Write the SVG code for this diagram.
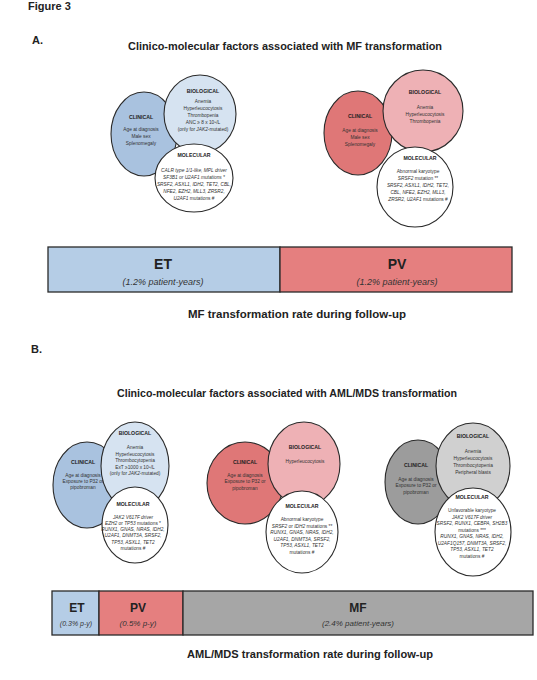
<svg xmlns="http://www.w3.org/2000/svg" width="537" height="680" viewBox="0 0 537 680">
<style>
text{font-family:"Liberation Sans","Open Sans",sans-serif;fill:#222}
.h{font-weight:bold;font-size:10.5px}
.lbl{font-weight:bold;font-size:11px}
.c{stroke:#2a2a2a;stroke-width:1.1}
.hd{font-weight:bold;font-size:5.2px;text-anchor:middle}
.t{font-size:4.8px;text-anchor:middle;fill:#333}
.i{font-style:italic}
.bar{stroke:#2a2a2a;stroke-width:1.3}
.bl{font-weight:bold;text-anchor:middle}
.bs{font-style:italic;text-anchor:middle;fill:#333}
.blue1{fill:#a9c2df}.blue2{fill:#d6e3f1}
.red1{fill:#df7777}.red2{fill:#eeb1b5}
.gray1{fill:#9c9c9c}.gray2{fill:#d0d0d0}
.white{fill:#fff}
</style>
<rect width="537" height="680" fill="#fff"/>
<text x="28" y="10" class="lbl">Figure 3</text>
<text x="32" y="44" class="lbl">A.</text>
<text x="285" y="50" class="h" text-anchor="middle" textLength="314" lengthAdjust="spacingAndGlyphs">Clinico-molecular factors associated with MF transformation</text>

<g id="venn-A-ET">
<g id="A-ET-clinical"><ellipse class="c blue1" cx="144" cy="134" rx="33" ry="42"/>
<text x="141" y="119" class="hd">CLINICAL</text>
<text x="141" y="131" class="t">Age at diagnosis</text>
<text x="141" y="138" class="t">Male sex</text>
<text x="141" y="145" class="t">Splenomegaly</text></g>
<g id="A-ET-biological"><ellipse class="c blue2" cx="200" cy="114" rx="36" ry="39"/>
<text x="203" y="93" class="hd">BIOLOGICAL</text>
<text x="203" y="103" class="t">Anemia</text>
<text x="203" y="110" class="t">Hyperleucocytosis</text>
<text x="203" y="117" class="t">Thrombopenia</text>
<text x="203" y="124" class="t">ANC ≥ 8 x 10⁹/L</text>
<text x="203" y="131" class="t">(only for <tspan class="i">JAK2</tspan>-mutated)</text></g>
<g id="A-ET-molecular"><ellipse class="c white" cx="194" cy="178" rx="39" ry="34"/>
<text x="194" y="157" class="hd">MOLECULAR</text>
<text x="194" y="172" class="t i">CALR type 1/1-like, MPL driver</text>
<text x="194" y="179" class="t i">SF3B1 or U2AF1 mutations *</text>
<text x="194" y="186" class="t i">SRSF2, ASXL1, IDH2, TET2, CBL,</text>
<text x="194" y="193" class="t i">NFE2, EZH2, MLL3, ZRSR2,</text>
<text x="194" y="200" class="t"><tspan class="i">U2AF1</tspan> mutations #</text></g>
</g>

<g id="venn-A-PV">
<g id="A-PV-clinical"><ellipse class="c red1" cx="358" cy="133" rx="34" ry="42"/>
<text x="360" y="118" class="hd">CLINICAL</text>
<text x="360" y="132" class="t">Age at diagnosis</text>
<text x="360" y="139" class="t">Male sex</text>
<text x="360" y="146" class="t">Splenomegaly</text></g>
<g id="A-PV-biological"><ellipse class="c red2" cx="423" cy="111" rx="40" ry="41"/>
<text x="425" y="94" class="hd">BIOLOGICAL</text>
<text x="425" y="109" class="t">Anemia</text>
<text x="425" y="116" class="t">Hyperleucocytosis</text>
<text x="425" y="123" class="t">Thrombopenia</text></g>
<g id="A-PV-molecular"><ellipse class="c white" cx="415" cy="187" rx="38" ry="40"/>
<text x="420" y="160" class="hd">MOLECULAR</text>
<text x="418" y="173" class="t">Abnormal karyotype</text>
<text x="418" y="180" class="t"><tspan class="i">SRSF2</tspan> mutation **</text>
<text x="418" y="187" class="t i">SRSF2, ASXL1, IDH2, TET2,</text>
<text x="418" y="194" class="t i">CBL, NFE2, EZH2, MLL3,</text>
<text x="418" y="201" class="t"><tspan class="i">ZRSR2, U2AF1</tspan> mutations #</text></g>
</g>

<g id="bar-A">
<g id="bar-A-ET"><rect class="bar" x="48" y="247" width="232" height="45" fill="#b5cde6"/>
<text x="163" y="269" class="bl" font-size="14">ET</text>
<text x="163" y="285" class="bs" font-size="9">(1.2% patient-years)</text></g>
<g id="bar-A-PV"><rect class="bar" x="280" y="247" width="232" height="45" fill="#e57f7f"/>
<text x="397" y="269" class="bl" font-size="14">PV</text>
<text x="397" y="285" class="bs" font-size="9">(1.2% patient-years)</text></g>
</g>
<text x="297" y="318" class="h" text-anchor="middle" textLength="218" lengthAdjust="spacingAndGlyphs">MF transformation rate during follow-up</text>

<text x="31" y="353" class="lbl">B.</text>
<text x="287" y="397" class="h" text-anchor="middle" textLength="340" lengthAdjust="spacingAndGlyphs">Clinico-molecular factors associated with AML/MDS transformation</text>

<g id="venn-B-ET">
<g id="B-ET-clinical"><ellipse class="c blue1" cx="87" cy="485" rx="34" ry="43"/>
<text x="83" y="464" class="hd">CLINICAL</text>
<text x="83" y="477" class="t">Age at diagnosis</text>
<text x="83" y="483" class="t">Exposure to P32 or</text>
<text x="83" y="489" class="t">pipobroman</text></g>
<g id="B-ET-biological"><ellipse class="c blue2" cx="135" cy="466" rx="34" ry="44"/>
<text x="135" y="435" class="hd">BIOLOGICAL</text>
<text x="135" y="449" class="t">Anemia</text>
<text x="135" y="455.5" class="t">Hyperleucocytosis</text>
<text x="135" y="462" class="t">Thrombocytopenia</text>
<text x="135" y="468.5" class="t">ExT ≥1000 x 10⁹/L</text>
<text x="135" y="475" class="t">(only for <tspan class="i">JAK2</tspan>-mutated)</text></g>
<g id="B-ET-molecular"><ellipse class="c white" cx="135" cy="525" rx="33" ry="38"/>
<text x="133" y="506" class="hd">MOLECULAR</text>
<text x="133" y="519" class="t i">JAK2 V617F driver</text>
<text x="133" y="525" class="t"><tspan class="i">EZH2</tspan> or <tspan class="i">TP53</tspan> mutations *</text>
<text x="133" y="531" class="t i">RUNX1, GNAS, NRAS, IDH2,</text>
<text x="133" y="537" class="t i">U2AF1, DNMT3A, SRSF2,</text>
<text x="133" y="543.5" class="t i">TP53, ASXL1, TET2</text>
<text x="133" y="550" class="t">mutations #</text></g>
</g>

<g id="venn-B-PV">
<g id="B-PV-clinical"><ellipse class="c red1" cx="245" cy="483" rx="38" ry="41"/>
<text x="245" y="464" class="hd">CLINICAL</text>
<text x="245" y="477" class="t">Age at diagnosis</text>
<text x="245" y="483" class="t">Exposure to P32 or</text>
<text x="245" y="490" class="t">pipobroman</text></g>
<g id="B-PV-biological"><ellipse class="c red2" cx="304" cy="464" rx="36" ry="42"/>
<text x="305" y="449" class="hd">BIOLOGICAL</text>
<text x="305" y="463" class="t">Hyperleucocytosis</text></g>
<g id="B-PV-molecular"><ellipse class="c white" cx="302" cy="532" rx="36" ry="41"/>
<text x="302" y="508" class="hd">MOLECULAR</text>
<text x="302" y="521" class="t">Abnormal karyotype</text>
<text x="302" y="527.5" class="t"><tspan class="i">SRSF2</tspan> or <tspan class="i">IDH2</tspan> mutations **</text>
<text x="302" y="534" class="t i">RUNX1, GNAS, NRAS, IDH2,</text>
<text x="302" y="540.5" class="t i">U2AF1, DNMT3A, SRSF2,</text>
<text x="302" y="547" class="t i">TP53, ASXL1, TET2</text>
<text x="302" y="553.5" class="t">mutations #</text></g>
</g>

<g id="venn-B-MF">
<g id="B-MF-clinical"><ellipse class="c gray1" cx="418" cy="482" rx="33" ry="42"/>
<text x="416" y="467" class="hd">CLINICAL</text>
<text x="416" y="481" class="t">Age at diagnosis</text>
<text x="416" y="487" class="t">Exposure to P32 or</text>
<text x="416" y="494" class="t">pipobroman</text></g>
<g id="B-MF-biological"><ellipse class="c gray2" cx="473" cy="466" rx="37" ry="43"/>
<text x="473" y="438" class="hd">BIOLOGICAL</text>
<text x="473" y="453" class="t">Anemia</text>
<text x="473" y="460" class="t">Hyperleucocytosis</text>
<text x="473" y="467" class="t">Thrombocytopenia</text>
<text x="473" y="474" class="t">Peripheral blasts</text></g>
<g id="B-MF-molecular"><ellipse class="c white" cx="473" cy="532" rx="38" ry="44"/>
<text x="472" y="499" class="hd">MOLECULAR</text>
<text x="472" y="512" class="t">Unfavorable karyotype</text>
<text x="472" y="518.5" class="t i">JAK2 V617F driver</text>
<text x="472" y="525" class="t i">SRSF2, RUNX1, CEBPA, SH2B3</text>
<text x="472" y="531.5" class="t">mutations ***</text>
<text x="472" y="538" class="t i">RUNX1, GNAS, NRAS, IDH2,</text>
<text x="472" y="544.5" class="t i">U2AF1Q157, DNMT3A, SRSF2,</text>
<text x="472" y="551" class="t i">TP53, ASXL1, TET2</text>
<text x="472" y="557.5" class="t">mutations #</text></g>
</g>

<g id="bar-B">
<g id="bar-B-ET"><rect class="bar" x="52" y="591" width="47" height="44" fill="#b5cde6"/>
<text x="77" y="612" class="bl" font-size="12">ET</text>
<text x="76" y="626" class="bs" font-size="7">(0.3% p-y)</text></g>
<g id="bar-B-PV"><rect class="bar" x="99" y="591" width="84" height="44" fill="#e57f7f"/>
<text x="138" y="612" class="bl" font-size="12">PV</text>
<text x="138" y="626" class="bs" font-size="8">(0.5% p-y)</text></g>
<g id="bar-B-MF"><rect class="bar" x="183" y="591" width="350" height="44" fill="#a6a6a6"/>
<text x="358" y="612" class="bl" font-size="12">MF</text>
<text x="358" y="626" class="bs" font-size="8">(2.4% patient-years)</text></g>
</g>
<text x="310" y="658" class="h" text-anchor="middle" textLength="246" lengthAdjust="spacingAndGlyphs">AML/MDS transformation rate during follow-up</text>
</svg>
